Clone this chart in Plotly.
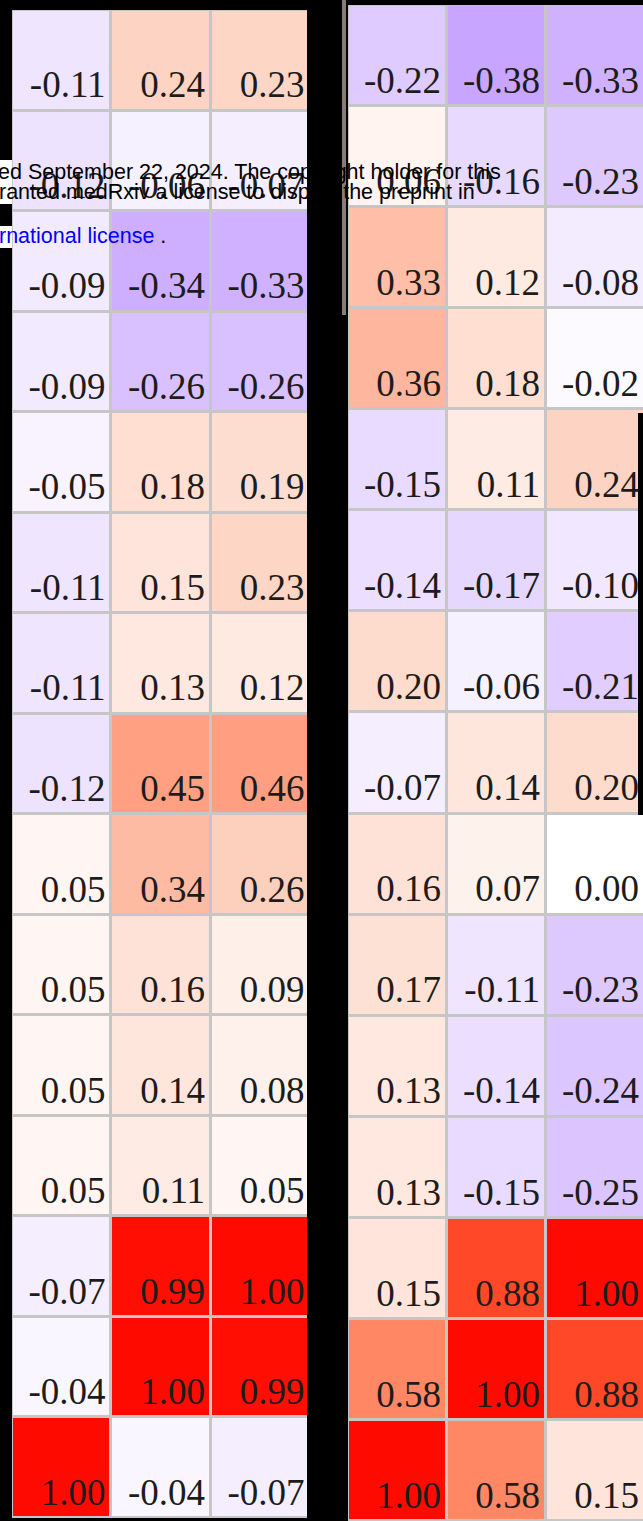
import plotly.graph_objects as go

W, H = 643, 1521

# correlation values, 15 rows x 3 columns, top row first
left_vals = [
    [-0.11, 0.24, 0.23],
    [-0.12, -0.06, -0.07],
    [-0.09, -0.34, -0.33],
    [-0.09, -0.26, -0.26],
    [-0.05, 0.18, 0.19],
    [-0.11, 0.15, 0.23],
    [-0.11, 0.13, 0.12],
    [-0.12, 0.45, 0.46],
    [0.05, 0.34, 0.26],
    [0.05, 0.16, 0.09],
    [0.05, 0.14, 0.08],
    [0.05, 0.11, 0.05],
    [-0.07, 0.99, 1.00],
    [-0.04, 1.00, 0.99],
    [1.00, -0.04, -0.07],
]
right_vals = [
    [-0.22, -0.38, -0.33],
    [0.06, -0.16, -0.23],
    [0.33, 0.12, -0.08],
    [0.36, 0.18, -0.02],
    [-0.15, 0.11, 0.24],
    [-0.14, -0.17, -0.10],
    [0.20, -0.06, -0.21],
    [-0.07, 0.14, 0.20],
    [0.16, 0.07, 0.00],
    [0.17, -0.11, -0.23],
    [0.13, -0.14, -0.24],
    [0.13, -0.15, -0.25],
    [0.15, 0.88, 1.00],
    [0.58, 1.00, 0.88],
    [1.00, 0.58, 0.15],
]
cols = [0, 1, 2]
rows = list(range(15))

overlay_lines = [
    "ed September 22, 2024. The copyright holder for this",
    "ranted medRxiv a license to display the preprint in",
]
link_text = "rnational license"

# white -> lavender for negatives, white -> red for positives
stops = [(-1.0, "rgb(120,45,255)"), (-0.38, "rgb(200,165,255)"),
         (0.0, "rgb(255,255,255)"), (0.24, "rgb(253,212,195)"),
         (0.45, "rgb(255,160,130)"), (0.58, "rgb(255,135,100)"),
         (0.88, "rgb(255,72,40)"), (1.0, "rgb(255,10,0)")]
colorscale = [[(v + 1) / 2, c] for v, c in stops]


def px_x(p):
    return p / W


def px_y(p):
    return 1 - p / H


fig = go.Figure()
panels = [(left_vals, "x", "y"), (right_vals, "x2", "y2")]
for vals, xa, ya in panels:
    fig.add_trace(go.Heatmap(
        z=vals, x=cols, y=rows, colorscale=colorscale, zmin=-1, zmax=1,
        xgap=3, ygap=3, showscale=False, hoverinfo="skip",
        xaxis=xa, yaxis=ya))
    tx, ty, tt = [], [], []
    for r in rows:
        for c in cols:
            tx.append(c + 0.44)
            ty.append(r + 0.46)
            tt.append(f"{vals[r][c]:.2f}")
    fig.add_trace(go.Scatter(
        x=tx, y=ty, text=tt, mode="text", textposition="top left",
        textfont=dict(family="Liberation Serif", size=37, color="#1c1c1c"),
        hoverinfo="skip", showlegend=False, cliponaxis=False,
        xaxis=xa, yaxis=ya))

ax = dict(showticklabels=False, showgrid=False, zeroline=False, ticks="",
          fixedrange=True)
fig.update_layout(
    width=W, height=H, margin=dict(l=0, r=0, t=0, b=0),
    paper_bgcolor="black", plot_bgcolor="#c6c6c6",
    xaxis=dict(ax, domain=[px_x(12), px_x(307)], range=[-0.5, 2.465]),
    yaxis=dict(ax, domain=[3 / H, px_y(10)], range=[14.5, -0.5]),
    xaxis2=dict(ax, domain=[px_x(348), 1], range=[-0.5, 2.48]),
    yaxis2=dict(ax, domain=[0, px_y(5)], range=[14.5, -0.5]),
)

shapes = [
    # thin edge line at left of right panel
    dict(type="rect", xref="paper", yref="paper", x0=px_x(342), x1=px_x(346),
         y0=px_y(315), y1=1, fillcolor="rgb(135,125,120)", line_width=0,
         layer="above"),
    # black strip at right edge
    dict(type="rect", xref="paper", yref="paper", x0=px_x(638), x1=1,
         y0=px_y(815), y1=px_y(413), fillcolor="black", line_width=0,
         layer="above"),
]
for y0, y1 in [(160, 204), (226, 248)]:
    shapes.append(dict(type="rect", xref="paper", yref="paper", x0=0,
                       x1=px_x(12), y0=px_y(y1), y1=px_y(y0),
                       fillcolor="white", line_width=0, layer="above"))
fig.update_layout(shapes=shapes)

ann_font = dict(family="Liberation Sans", size=21.5, color="black")
fig.add_annotation(text=overlay_lines[0], xref="paper", yref="paper",
                   x=px_x(-4), y=px_y(172), xanchor="left", yanchor="middle",
                   showarrow=False, font=ann_font)
fig.add_annotation(text=overlay_lines[1], xref="paper", yref="paper",
                   x=px_x(-3), y=px_y(192), xanchor="left", yanchor="middle",
                   showarrow=False, font=ann_font)
fig.add_annotation(text=f'<span style="color:#0000ff">{link_text}</span> .',
                   xref="paper", yref="paper", x=px_x(-3), y=px_y(236),
                   xanchor="left", yanchor="middle", showarrow=False,
                   font=ann_font)

fig.write_html(
    "out.html",
    config={"displayModeBar": False},
    post_script="document.body.style.margin='0';"
                "document.body.style.overflow='hidden';")
